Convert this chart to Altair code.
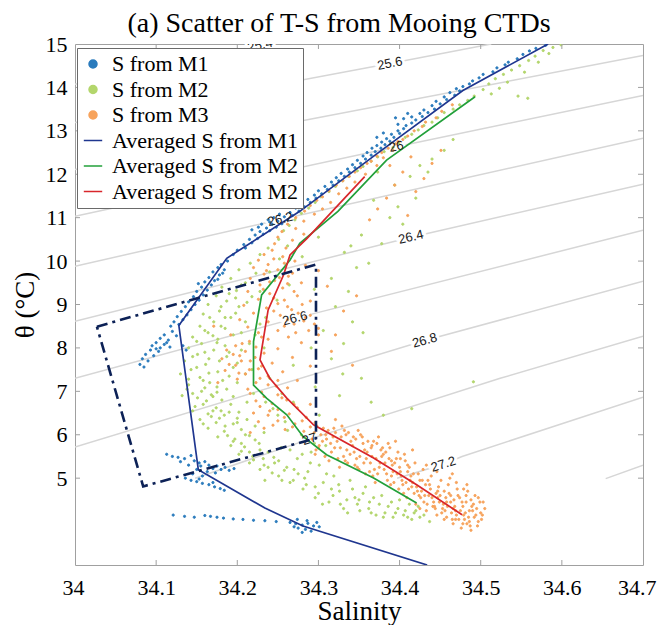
import altair as alt
import pandas as pd

# ---------------- data ----------------
X_TICKS = [34.0, 34.1, 34.2, 34.3, 34.4, 34.5, 34.6, 34.7]
Y_TICKS = [5, 6, 7, 8, 9, 10, 11, 12, 13, 14, 15]

LEGEND_KEYS = ["M1", "M2", "M3", "A1", "A2", "A3"]
LEGEND_LABELS = ["S from M1", "S from M2", "S from M3",
                 "Averaged S from M1", "Averaged S from M2", "Averaged S from M2"]

# scatter of M1 (salinity, theta)
M1_PTS = [
    (34.580, 14.97), (34.568, 14.90), (34.560, 14.84), (34.552, 14.76), (34.545, 14.66),
    (34.534, 14.58), (34.530, 14.52), (34.520, 14.45), (34.515, 14.36), (34.503, 14.30),
    (34.498, 14.22), (34.490, 14.15), (34.486, 14.08), (34.478, 14.02), (34.470, 13.97),
    (34.474, 13.92), (34.462, 13.88), (34.468, 13.82), (34.455, 13.78), (34.458, 13.72),
    (34.445, 13.68), (34.450, 13.62), (34.440, 13.58), (34.443, 13.50), (34.430, 13.48),
    (34.435, 13.42), (34.425, 13.40), (34.428, 13.33), (34.415, 13.32), (34.420, 13.25),
    (34.405, 13.28), (34.415, 13.18), (34.408, 13.12), (34.398, 13.15), (34.405, 13.05),
    (34.398, 13.00), (34.400, 12.94), (34.390, 12.92), (34.393, 12.85), (34.384, 12.82),
    (34.388, 12.76), (34.378, 12.74), (34.382, 12.68), (34.372, 12.66), (34.377, 12.60),
    (34.366, 12.60), (34.370, 12.52), (34.360, 12.50), (34.365, 12.44), (34.355, 12.42),
    (34.358, 12.35), (34.348, 12.32), (34.352, 12.25), (34.342, 12.22), (34.345, 12.15),
    (34.336, 12.12), (34.338, 12.05), (34.328, 12.02), (34.332, 11.95), (34.322, 11.92),
    (34.325, 11.85), (34.316, 11.82), (34.318, 11.75), (34.308, 11.72), (34.311, 11.65),
    (34.300, 11.62), (34.304, 11.55), (34.295, 11.52), (34.297, 11.45), (34.287, 11.42),
    (34.290, 11.35), (34.280, 11.32), (34.283, 11.25), (34.272, 11.22), (34.276, 11.15),
    (34.265, 11.12), (34.268, 11.05), (34.258, 11.02), (34.262, 10.95), (34.250, 10.92),
    (34.255, 10.86), (34.243, 10.85), (34.248, 10.78), (34.236, 10.76), (34.240, 10.70),
    (34.228, 10.68), (34.232, 10.62), (34.222, 10.60), (34.225, 10.52), (34.215, 10.50),
    (34.218, 10.42), (34.208, 10.38), (34.210, 10.30), (34.200, 10.25), (34.195, 10.15),
    (34.238, 10.95), (34.245, 11.00), (34.230, 10.85), (34.252, 11.08), (34.226, 10.78),
    (34.240, 10.90), (34.218, 10.72), (34.380, 12.95), (34.372, 12.85), (34.410, 13.40),
    (34.395, 13.30),
    (34.188, 10.00), (34.180, 9.92), (34.176, 9.85), (34.184, 9.80), (34.170, 9.75),
    (34.178, 9.68), (34.165, 9.62), (34.172, 9.55), (34.160, 9.52), (34.168, 9.45),
    (34.156, 9.40), (34.163, 9.33), (34.150, 9.30), (34.158, 9.22), (34.146, 9.18),
    (34.153, 9.10), (34.140, 9.06), (34.148, 9.00), (34.136, 8.95), (34.143, 8.88),
    (34.131, 8.84), (34.138, 8.76), (34.126, 8.72), (34.133, 8.65), (34.122, 8.60),
    (34.128, 8.54), (34.118, 8.50), (34.176, 9.58), (34.182, 9.72), (34.152, 9.48),
    (34.120, 8.38), (34.110, 8.30), (34.125, 8.28), (34.105, 8.22), (34.115, 8.18),
    (34.100, 8.12), (34.110, 8.08), (34.095, 8.05), (34.105, 8.00), (34.117, 8.02),
    (34.093, 7.95), (34.103, 7.92), (34.087, 7.85), (34.097, 7.82), (34.083, 7.75),
    (34.090, 7.70), (34.080, 7.62), (34.085, 7.56), (34.113, 8.12), (34.100, 7.98),
    (34.133, 8.05), (34.137, 7.95),
    (34.113, 5.55), (34.120, 5.50), (34.127, 5.48), (34.135, 5.45), (34.143, 5.52),
    (34.147, 5.40), (34.153, 5.35), (34.160, 5.38), (34.155, 5.28), (34.165, 5.30),
    (34.170, 5.22), (34.175, 5.28), (34.180, 5.20), (34.185, 5.25), (34.190, 5.18),
    (34.196, 5.22), (34.163, 5.15), (34.150, 5.20), (34.140, 5.30), (34.130, 5.38),
    (34.145, 5.10), (34.157, 5.05), (34.173, 5.12),
    (34.136, 5.00), (34.143, 4.95), (34.150, 4.92), (34.157, 4.88), (34.165, 4.85),
    (34.172, 4.80), (34.179, 4.76), (34.184, 4.72), (34.153, 4.98), (34.170, 4.90),
    (34.121, 4.15), (34.135, 4.12), (34.147, 4.10), (34.160, 4.14), (34.167, 4.12),
    (34.175, 4.10), (34.183, 4.08), (34.195, 4.06), (34.207, 4.05), (34.220, 4.03),
    (34.234, 4.02), (34.248, 4.00),
    (34.265, 3.98), (34.272, 3.95), (34.280, 3.92), (34.287, 3.96), (34.294, 3.90),
    (34.301, 3.88), (34.275, 3.85), (34.284, 3.82), (34.291, 3.78), (34.280, 3.75),
    (34.270, 3.88), (34.298, 3.98), (34.286, 4.02), (34.274, 4.05),
]

# scatter of M2
M2_PTS = [
    (34.599, 14.98), (34.589, 14.92), (34.577, 14.85), (34.584, 14.78), (34.567, 14.72),
    (34.559, 14.62), (34.571, 14.58), (34.548, 14.50), (34.538, 14.40), (34.554, 14.35),
    (34.528, 14.30), (34.518, 14.20), (34.533, 14.12), (34.510, 14.08), (34.523, 13.98),
    (34.503, 13.95), (34.513, 13.85), (34.546, 13.80), (34.558, 13.75), (34.492, 13.80),
    (34.484, 13.70), (34.474, 13.60), (34.466, 13.50), (34.455, 13.42), (34.447, 13.30),
    (34.440, 13.20), (34.430, 13.12), (34.423, 13.02), (34.415, 12.92), (34.407, 12.85),
    (34.399, 12.72), (34.392, 12.62), (34.381, 12.52), (34.373, 12.40), (34.365, 12.30),
    (34.355, 12.18), (34.348, 12.08), (34.337, 11.95), (34.330, 11.85), (34.321, 11.72),
    (34.313, 11.60), (34.303, 11.48), (34.296, 11.35), (34.288, 11.22), (34.279, 11.10),
    (34.271, 10.95), (34.264, 10.82), (34.257, 10.70),
    (34.455, 12.55), (34.440, 12.35), (34.425, 12.20), (34.413, 11.95), (34.394, 11.75),
    (34.388, 11.00), (34.404, 10.85), (34.368, 11.40), (34.353, 10.60), (34.378, 10.40),
    (34.332, 10.20), (34.347, 9.85), (34.316, 9.60), (34.337, 9.30), (34.321, 8.95),
    (34.342, 8.60), (34.306, 8.40), (34.331, 8.10), (34.316, 7.75), (34.353, 7.30),
    (34.296, 7.10), (34.326, 6.90), (34.415, 6.60), (34.466, 12.80), (34.373, 12.05),
    (34.491, 7.22), (34.300, 10.55), (34.340, 10.35), (34.362, 9.95), (34.295, 9.35),
    (34.355, 8.35), (34.330, 7.40), (34.365, 6.75), (34.380, 6.45), (34.420, 11.45),
    (34.435, 12.05), (34.398, 11.25),
    (34.251, 10.50), (34.238, 10.30), (34.228, 10.15), (34.216, 9.95), (34.202, 9.80),
    (34.223, 9.72), (34.192, 9.60), (34.210, 9.50), (34.181, 9.40), (34.199, 9.32),
    (34.174, 9.20), (34.218, 9.18), (34.187, 9.08), (34.164, 9.00), (34.202, 8.95),
    (34.178, 8.85), (34.158, 8.78), (34.192, 8.70), (34.171, 8.60), (34.154, 8.50),
    (34.185, 8.45), (34.228, 8.55), (34.164, 8.35), (34.145, 8.25), (34.176, 8.20),
    (34.156, 8.10), (34.140, 8.00), (34.171, 7.95), (34.151, 7.85), (34.187, 7.80),
    (34.135, 7.70), (34.161, 7.62), (34.143, 7.50), (34.176, 7.45), (34.130, 7.40),
    (34.154, 7.32), (34.166, 7.20), (34.140, 7.15), (34.187, 7.05), (34.156, 7.00),
    (34.218, 7.50), (34.233, 8.00), (34.249, 9.10), (34.264, 9.45), (34.280, 10.10),
    (34.291, 8.00), (34.269, 7.60),
    (34.205, 9.45), (34.190, 9.25), (34.212, 9.05), (34.180, 8.95), (34.198, 8.80),
    (34.166, 8.70), (34.210, 8.60), (34.180, 8.50), (34.160, 8.40), (34.195, 8.30),
    (34.170, 8.28), (34.150, 8.15), (34.185, 8.05), (34.160, 7.90), (34.145, 7.80),
    (34.178, 7.70), (34.200, 7.65), (34.150, 7.55), (34.165, 7.42), (34.190, 7.35),
    (34.140, 7.28), (34.175, 7.10), (34.200, 7.20), (34.160, 7.08), (34.145, 6.95),
    (34.175, 6.98), (34.195, 6.88), (34.162, 6.78), (34.180, 6.55), (34.200, 6.38),
    (34.168, 6.42), (34.185, 6.20), (34.210, 6.00), (34.195, 5.85), (34.222, 5.88),
    (34.205, 5.62), (34.228, 5.65), (34.220, 5.42), (34.245, 5.48), (34.238, 5.25),
    (34.258, 5.18),
    (34.132, 6.90), (34.151, 6.85), (34.168, 6.92), (34.181, 6.80), (34.158, 6.70),
    (34.174, 6.62), (34.192, 6.70), (34.145, 6.55), (34.164, 6.48), (34.184, 6.45),
    (34.202, 6.52), (34.154, 6.35), (34.174, 6.28), (34.195, 6.25), (34.212, 6.35),
    (34.164, 6.15), (34.184, 6.08), (34.205, 6.12), (34.222, 6.20), (34.176, 5.95),
    (34.197, 5.90), (34.215, 5.98), (34.233, 6.05), (34.192, 5.75), (34.209, 5.72),
    (34.227, 5.80), (34.202, 5.55), (34.219, 5.50), (34.238, 5.60), (34.215, 5.35),
    (34.233, 5.30), (34.251, 5.40), (34.228, 5.20), (34.243, 5.12),
    (34.251, 5.05), (34.261, 5.25), (34.269, 4.95), (34.274, 5.45), (34.281, 4.75),
    (34.287, 5.15), (34.296, 4.55), (34.301, 5.30), (34.306, 4.90), (34.313, 4.45),
    (34.319, 5.05), (34.326, 4.70), (34.331, 4.30), (34.339, 4.95), (34.345, 4.55),
    (34.351, 4.25), (34.358, 4.80), (34.363, 4.45), (34.371, 4.15), (34.378, 4.60),
    (34.386, 4.35), (34.392, 4.10), (34.400, 4.50), (34.407, 4.25), (34.415, 4.05),
    (34.423, 4.35), (34.430, 4.15), (34.437, 4.00), (34.291, 5.60), (34.309, 5.75),
    (34.279, 6.00), (34.259, 6.30), (34.244, 6.60), (34.269, 6.75), (34.301, 6.45),
    (34.254, 5.70), (34.234, 4.95),
    (34.265, 4.90), (34.275, 5.10), (34.285, 4.85), (34.290, 5.35), (34.300, 4.65),
    (34.310, 5.10), (34.318, 4.60), (34.325, 4.85), (34.335, 4.50), (34.342, 4.75),
    (34.348, 4.40), (34.355, 4.65), (34.362, 4.30), (34.368, 4.55), (34.375, 4.40),
    (34.382, 4.20), (34.390, 4.45), (34.398, 4.30), (34.405, 4.15), (34.412, 4.40),
    (34.418, 4.20), (34.425, 4.10), (34.280, 5.55), (34.295, 5.80), (34.265, 5.65),
    (34.262, 6.10), (34.250, 6.45), (34.235, 6.75), (34.255, 6.95), (34.240, 7.30),
    (34.205, 7.95), (34.222, 8.30), (34.235, 8.70), (34.228, 9.30), (34.240, 9.75),
    (34.252, 10.05), (34.262, 10.35),
    (34.148, 6.65), (34.170, 6.55), (34.190, 6.52), (34.158, 6.25), (34.178, 6.38),
    (34.200, 6.28), (34.188, 5.98), (34.205, 5.80), (34.215, 5.60), (34.232, 5.45),
    (34.246, 5.35), (34.255, 4.95), (34.270, 5.20), (34.283, 5.00), (34.296, 4.80),
    (34.305, 4.40), (34.316, 4.75), (34.327, 4.40), (34.336, 4.20), (34.350, 4.50),
    (34.365, 4.20), (34.380, 4.10), (34.395, 4.20), (34.410, 4.10), (34.420, 4.25),
    (34.198, 9.15), (34.185, 8.70), (34.205, 8.35), (34.175, 8.12), (34.190, 7.90),
    (34.165, 7.75), (34.158, 7.25), (34.182, 7.25), (34.138, 7.05), (34.170, 6.88),
    (34.212, 6.75), (34.220, 6.95), (34.210, 7.40), (34.195, 7.55), (34.215, 8.10),
]

# scatter of M3
M3_PTS = [
    (34.465, 13.60), (34.452, 13.45), (34.445, 13.30), (34.432, 13.20), (34.428, 13.10),
    (34.418, 13.00), (34.410, 12.88), (34.404, 12.80), (34.398, 12.75), (34.395, 12.70),
    (34.386, 12.60), (34.392, 12.55), (34.378, 12.50), (34.372, 12.42), (34.380, 12.38),
    (34.365, 12.30), (34.360, 12.25), (34.372, 12.20), (34.352, 12.15), (34.345, 12.05),
    (34.358, 12.00), (34.338, 11.95), (34.330, 11.85), (34.345, 11.82), (34.322, 11.75),
    (34.335, 11.68), (34.313, 11.62), (34.325, 11.55), (34.305, 11.48), (34.298, 11.40),
    (34.315, 11.35), (34.290, 11.28), (34.305, 11.20), (34.283, 11.15), (34.295, 11.08),
    (34.272, 11.00), (34.282, 10.92), (34.262, 10.85), (34.272, 10.75), (34.255, 10.68),
    (34.282, 10.62), (34.250, 10.55), (34.268, 10.48), (34.246, 10.40), (34.260, 10.30),
    (34.414, 12.40), (34.440, 12.25), (34.404, 12.05), (34.430, 11.90), (34.394, 11.75),
    (34.420, 11.60), (34.384, 11.45), (34.373, 11.20), (34.410, 11.05), (34.363, 10.95),
    (34.388, 12.20), (34.451, 12.55),
    (34.243, 10.25), (34.233, 10.15), (34.256, 10.10), (34.226, 10.02), (34.271, 10.00),
    (34.238, 9.92), (34.284, 9.90), (34.220, 9.85), (34.250, 9.80), (34.300, 9.78),
    (34.233, 9.70), (34.263, 9.65), (34.216, 9.60), (34.246, 9.55), (34.279, 9.50),
    (34.228, 9.45), (34.311, 9.42), (34.256, 9.38), (34.213, 9.30), (34.240, 9.25),
    (34.274, 9.20), (34.226, 9.12), (34.290, 9.08), (34.250, 9.02), (34.208, 8.98),
    (34.236, 8.92), (34.267, 8.88), (34.331, 8.85), (34.220, 8.80), (34.253, 8.75),
    (34.284, 8.70), (34.203, 8.65), (34.238, 8.60), (34.270, 8.55), (34.213, 8.48),
    (34.300, 8.45), (34.250, 8.40), (34.226, 8.35), (34.192, 8.30), (34.263, 8.25),
    (34.238, 8.20), (34.279, 8.12), (34.206, 8.10), (34.223, 8.02), (34.250, 7.98),
    (34.187, 7.95), (34.316, 7.92), (34.233, 7.88), (34.203, 7.82), (34.268, 7.78),
    (34.181, 7.75), (34.216, 7.70), (34.243, 7.65), (34.198, 7.60), (34.290, 7.58),
    (34.226, 7.52), (34.185, 7.48), (34.256, 7.45), (34.210, 7.40), (34.238, 7.35),
    (34.200, 7.28), (34.274, 7.25), (34.223, 7.20), (34.248, 7.12), (34.213, 7.05),
    (34.342, 7.60), (34.321, 8.30), (34.347, 9.20), (34.171, 8.50), (34.176, 7.20),
    (34.245, 10.05), (34.258, 9.95), (34.236, 9.78), (34.268, 9.72), (34.252, 9.62),
    (34.240, 9.52), (34.262, 9.48), (34.232, 9.35), (34.270, 9.30), (34.245, 9.15),
    (34.258, 9.10), (34.280, 9.00), (34.262, 8.95), (34.245, 8.85), (34.275, 8.80),
    (34.290, 8.75), (34.262, 8.65), (34.282, 8.62), (34.295, 8.55), (34.258, 8.50),
    (34.288, 8.40), (34.272, 8.35), (34.300, 8.30), (34.230, 8.25), (34.215, 8.15),
    (34.198, 8.05), (34.210, 7.92), (34.195, 7.85), (34.222, 7.78), (34.205, 7.70),
    (34.190, 7.62), (34.230, 7.58), (34.215, 7.50), (34.202, 7.42), (34.228, 7.30),
    (34.250, 7.25), (34.238, 7.15), (34.262, 7.08), (34.230, 6.98), (34.255, 6.85),
    (34.270, 6.70), (34.240, 6.55), (34.258, 6.40), (34.280, 6.32), (34.244, 6.22),
    (34.268, 6.18), (34.290, 6.18),
    (34.216, 6.95), (34.233, 6.88), (34.250, 6.92), (34.223, 6.78), (34.243, 6.72),
    (34.261, 6.80), (34.228, 6.65), (34.250, 6.58), (34.274, 6.62), (34.220, 6.50),
    (34.238, 6.45), (34.264, 6.48), (34.285, 6.40), (34.226, 6.30), (34.250, 6.32),
    (34.271, 6.25), (34.296, 6.28), (34.233, 6.15), (34.216, 6.05), (34.259, 6.12),
    (34.282, 6.08), (34.306, 6.15), (34.321, 6.35), (34.290, 6.70),
    (34.292, 5.90), (34.301, 5.75), (34.309, 6.00), (34.316, 5.60), (34.323, 5.85),
    (34.329, 6.20), (34.313, 5.40), (34.331, 5.50), (34.296, 5.55), (34.326, 5.25),
    (34.337, 6.05), (34.342, 5.75), (34.347, 5.45), (34.350, 5.20), (34.354, 5.95),
    (34.360, 5.60), (34.364, 5.35), (34.367, 5.05), (34.372, 5.80), (34.370, 4.90),
    (34.378, 5.50), (34.381, 5.20), (34.385, 4.95), (34.388, 5.70), (34.394, 5.35),
    (34.399, 4.75), (34.402, 5.05), (34.406, 5.55), (34.409, 4.55), (34.412, 5.25),
    (34.416, 4.90), (34.420, 4.40), (34.423, 5.10), (34.427, 4.70), (34.433, 4.25),
    (34.435, 4.95), (34.440, 4.55), (34.446, 4.15), (34.448, 4.80), (34.454, 4.40),
    (34.458, 4.10), (34.461, 4.65), (34.466, 3.95), (34.468, 4.35), (34.474, 4.55),
    (34.476, 3.85), (34.481, 4.20), (34.486, 4.00), (34.491, 4.40), (34.496, 3.90),
    (34.484, 4.70), (34.494, 4.15), (34.488, 3.80), (34.501, 4.05),
    (34.300, 5.70), (34.318, 5.95), (34.335, 5.65), (34.345, 5.30), (34.352, 6.00),
    (34.358, 5.10), (34.365, 5.70), (34.375, 5.25), (34.383, 5.60), (34.390, 5.05),
    (34.396, 5.45), (34.404, 4.85), (34.410, 5.15), (34.418, 4.65), (34.425, 4.95),
    (34.430, 4.45), (34.438, 4.75), (34.443, 4.35), (34.450, 4.60), (34.456, 4.25),
    (34.463, 4.45), (34.470, 4.15), (34.478, 4.35), (34.483, 3.95), (34.490, 4.25),
    (34.497, 4.55), (34.479, 4.75), (34.470, 4.90), (34.462, 5.00), (34.505, 4.30),
    (34.295, 6.05), (34.305, 5.85), (34.312, 6.10), (34.320, 5.70), (34.328, 5.95),
    (34.333, 5.40), (34.340, 5.85), (34.344, 5.60), (34.349, 6.10), (34.356, 5.35),
    (34.361, 5.85), (34.366, 5.50), (34.369, 5.20), (34.374, 5.95), (34.377, 5.65),
    (34.382, 5.35), (34.386, 5.80), (34.389, 4.85), (34.392, 5.15), (34.398, 5.60),
    (34.400, 5.25), (34.403, 4.95), (34.407, 5.40), (34.411, 4.75), (34.414, 5.05),
    (34.419, 5.35), (34.421, 4.80), (34.426, 4.55), (34.429, 5.20), (34.432, 4.85),
    (34.436, 4.60), (34.439, 5.05), (34.442, 4.45), (34.447, 4.70), (34.451, 4.95),
    (34.453, 4.30), (34.457, 4.55), (34.460, 4.85), (34.464, 4.20), (34.467, 4.50),
    (34.471, 4.75), (34.473, 4.05), (34.477, 4.45), (34.482, 4.60), (34.485, 4.10),
    (34.489, 4.35), (34.493, 4.60), (34.497, 4.00), (34.500, 4.20), (34.503, 4.45),
    (34.487, 3.90), (34.480, 4.05), (34.466, 4.30), (34.455, 4.05), (34.444, 4.30),
    (34.434, 4.40), (34.424, 4.60), (34.413, 4.95), (34.401, 5.15), (34.390, 5.40),
    (34.379, 5.70), (34.368, 5.85), (34.357, 5.65), (34.346, 5.90), (34.334, 6.00),
    (34.321, 6.05), (34.310, 5.90), (34.298, 6.20), (34.395, 5.85), (34.416, 5.65),
    (34.433, 5.30), (34.446, 5.15), (34.465, 5.10), (34.483, 4.85),
    (34.297, 5.65), (34.303, 6.00), (34.308, 5.50), (34.315, 5.80), (34.319, 6.15),
    (34.324, 5.45), (34.327, 5.70), (34.332, 6.10), (34.336, 5.35), (34.339, 5.55),
    (34.343, 5.95), (34.348, 5.25), (34.351, 5.50), (34.355, 5.80), (34.359, 5.45),
    (34.363, 5.15), (34.366, 5.75), (34.371, 5.45), (34.373, 5.10), (34.376, 5.35),
    (34.380, 5.55), (34.384, 5.10), (34.387, 5.45), (34.391, 5.30), (34.393, 4.90),
    (34.397, 5.10), (34.401, 5.45), (34.405, 4.65), (34.408, 4.90), (34.410, 5.30),
    (34.415, 4.80), (34.417, 5.10), (34.422, 4.70), (34.425, 4.30), (34.428, 4.95),
    (34.431, 4.60), (34.437, 4.85), (34.441, 4.35), (34.445, 4.65), (34.449, 4.45),
    (34.452, 4.20), (34.455, 4.70), (34.459, 4.35), (34.463, 4.60), (34.465, 4.05),
    (34.469, 4.25), (34.472, 4.60), (34.475, 4.25), (34.479, 4.15), (34.482, 4.45),
    (34.486, 4.25), (34.488, 4.50), (34.492, 4.10), (34.495, 4.30), (34.499, 4.45),
    (34.502, 4.15), (34.478, 3.95), (34.469, 4.05), (34.458, 4.45), (34.447, 4.55),
]

# averaged profiles
AVG_M1_S = [34.583, 34.478, 34.376, 34.277, 34.187, 34.128, 34.152, 34.234, 34.281, 34.434]
AVG_M1_T = [15.00, 13.93, 12.526, 11.146, 10.065, 8.516, 5.193, 4.312, 3.898, 3.00]
AVG_M2_S = [34.493, 34.384, 34.324, 34.277, 34.265, 34.230, 34.220, 34.220, 34.236,
            34.261, 34.281, 34.310, 34.368, 34.421]
AVG_M2_T = [13.785, 12.326, 11.146, 10.41, 10.025, 9.22, 8.148, 7.142, 6.843,
            6.459, 5.962, 5.539, 5.002, 4.427]
AVG_M3_S = [34.357, 34.286, 34.265, 34.257, 34.238, 34.228, 34.240, 34.261, 34.294,
            34.368, 34.421, 34.477]
AVG_M3_T = [11.944, 10.525, 10.14, 9.68, 8.875, 7.724, 7.303, 6.843, 6.229,
            5.463, 4.849, 4.158]

# dash-dot box
BOX_S = [34.027, 34.297, 34.297, 34.084, 34.027]
BOX_T = [8.49, 9.92, 5.92, 4.81, 8.49]

# isopycnals (sigma-theta), read as polylines
C254_S = [34.0, 34.237]
C254_T = [14.07, 15.0]
C256_S = [34.0, 34.388, 34.513]
C256_T = [13.19, 14.55, 15.0]
C258_S = [34.0, 34.275, 34.7]
C258_T = [12.11, 13.217, 14.735]
C260_S = [34.0, 34.396, 34.7]
C260_T = [11.03, 12.635, 13.815]
C262_S = [34.0, 34.253, 34.7]
C262_T = [9.88, 10.96, 12.83]
C264_S = [34.0, 34.414, 34.7]
C264_T = [8.615, 10.55, 11.77]
C266_S = [34.0, 34.271, 34.7]
C266_T = [7.30, 8.68, 10.71]
C268_S = [34.0, 34.431, 34.7]
C268_T = [5.716, 8.17, 9.535]
C270_S = [34.148, 34.289, 34.524, 34.7]
C270_T = [5.0, 5.90, 7.30, 8.27]
C272_S = [34.397, 34.454, 34.477, 34.7]
C272_T = [5.0, 5.32, 5.50, 6.866]
C274_S = [34.654, 34.7]
C274_T = [4.99, 5.30]

CLABEL_TEXT = ["25.4", "25.6", "26", "26.2", "26.4", "26.6", "26.8", "27", "27.2"]
CLABEL_S = [34.228, 34.388, 34.396, 34.253, 34.414, 34.271, 34.431, 34.289, 34.454]
CLABEL_T = [14.97, 14.55, 12.635, 10.96, 10.55, 8.68, 8.17, 5.90, 5.32]

TITLE = "(a) Scatter of T-S from Mooing CTDs"
X_TITLE = "Salinity"
Y_TITLE = "θ (°C)"

# ---------------- styling ----------------
W, H = 568, 521
SERIF = "Liberation Serif"
SANS = "Liberation Sans"
AXC = "#a0a0a0"
COLORS = ["#2a7bbd", "#b3d66c", "#f7a35c", "#1f368f", "#22a03a", "#d8262b"]
LINE_PATH = "M-2.3,0L2.3,0"
SHAPES = ["circle", "circle", "circle", LINE_PATH, LINE_PATH, LINE_PATH]

xs = alt.Scale(domain=[34.0, 34.7], nice=False, zero=False)
ys = alt.Scale(domain=[3, 15], nice=False, zero=False)
cscale = alt.Scale(domain=LEGEND_KEYS, range=COLORS)
sscale = alt.Scale(domain=LEGEND_KEYS, range=SHAPES)

XAX = alt.Axis(values=X_TICKS, format="~g", title=X_TITLE, grid=False, ticks=False,
               domain=False, labelFont=SERIF, labelFontSize=22, labelColor="black",
               labelPadding=12, labelFlush=True, labelFlushOffset=13, labelOverlap=False,
               titleFont=SERIF, titleFontSize=27, titleFontWeight="normal",
               titleColor="black", titleY=54, titleBaseline="alphabetic")
YAX = alt.Axis(values=Y_TICKS, format="d", title=Y_TITLE, grid=False, ticks=False,
               domain=False, labelFont=SERIF, labelFontSize=22, labelColor="black",
               labelPadding=8, labelFlush=False, labelOverlap=False,
               titleFont=SERIF, titleFontSize=27, titleFontWeight="normal",
               titleColor="black", titlePadding=6)

keys_js = "[" + ",".join("'%s'" % k for k in LEGEND_KEYS) + "]"
labels_js = "[" + ",".join("'%s'" % l for l in LEGEND_LABELS) + "]"
legend = alt.Legend(
    title=None, orient="none", legendX=2, legendY=4, direction="vertical",
    labelFont=SERIF, labelFontSize=22, labelColor="black", labelLimit=400,
    labelExpr=labels_js + "[indexof(" + keys_js + ", datum.value)]",
    symbolSize=64, symbolStrokeWidth=1.5, labelOffset=8,
    rowPadding=3.5, padding=5, strokeColor="#6a6a6a", fillColor="white",
)

# ---------------- tables ----------------
def pts_table(pts, key):
    return pd.DataFrame({"S": [p[0] for p in pts], "T": [p[1] for p in pts], "series": key})

scatter_df = pd.concat([pts_table(M2_PTS, "M2"), pts_table(M3_PTS, "M3"),
                        pts_table(M1_PTS, "M1")], ignore_index=True)

def line_table(s, t, key):
    return pd.DataFrame({"S": s, "T": t, "series": key, "idx": list(range(len(s)))})

avg_df = pd.concat([line_table(AVG_M1_S, AVG_M1_T, "A1"),
                    line_table(AVG_M2_S, AVG_M2_T, "A2"),
                    line_table(AVG_M3_S, AVG_M3_T, "A3")], ignore_index=True)
box_df = line_table(BOX_S, BOX_T, "box")

contours = [("25.4", C254_S, C254_T), ("25.6", C256_S, C256_T), ("25.8", C258_S, C258_T),
            ("26.0", C260_S, C260_T), ("26.2", C262_S, C262_T), ("26.4", C264_S, C264_T),
            ("26.6", C266_S, C266_T), ("26.8", C268_S, C268_T), ("27.0", C270_S, C270_T),
            ("27.2", C272_S, C272_T), ("27.4", C274_S, C274_T)]
cont_df = pd.concat([line_table(s, t, lv) for lv, s, t in contours], ignore_index=True)

clabel_df = pd.DataFrame({"S": CLABEL_S, "T": CLABEL_T, "txt": CLABEL_TEXT})
# rotation of each label along its isopycnal (style, degrees)
LABEL_ANGLE = {"25.4": 348, "25.6": 349, "26": 348, "26.2": 347, "26.4": 346.5,
               "26.6": 345.5, "26.8": 344, "27": 342, "27.2": 342.5}

def X():
    return alt.X("S:Q", scale=xs, axis=XAX)

def Y():
    return alt.Y("T:Q", scale=ys, axis=YAX)

# ---------------- layers ----------------
contour_lines = alt.Chart(cont_df).mark_line(color="#d6d6d6", strokeWidth=1.5, clip=True).encode(
    x=X(), y=Y(), detail="series:N", order="idx:Q")

halo_layers = []
text_layers = []
for txt, ang in LABEL_ANGLE.items():
    sub = clabel_df[clabel_df["txt"] == txt]
    halo_layers.append(alt.Chart(sub).mark_text(
        font=SANS, fontSize=13, angle=ang, fill="white", stroke="white", strokeWidth=6,
        clip=True).encode(x=X(), y=Y(), text="txt:N"))
    text_layers.append(alt.Chart(sub).mark_text(
        font=SANS, fontSize=13, angle=ang, color="#1a1a1a", clip=True).encode(
        x=X(), y=Y(), text="txt:N"))

scatter = alt.Chart(scatter_df).mark_point(filled=True, size=5, strokeWidth=1.0, opacity=1,
                                           clip=True).encode(
    x=X(), y=Y(),
    color=alt.Color("series:N", scale=cscale, legend=legend),
    stroke=alt.Stroke("series:N", scale=cscale, legend=legend),
    shape=alt.Shape("series:N", scale=sscale, legend=legend),
)

avg_lines = alt.Chart(avg_df).mark_line(strokeWidth=1.7, clip=True).encode(
    x=X(), y=Y(),
    color=alt.Color("series:N", scale=cscale, legend=None),
    order="idx:Q",
)

box = alt.Chart(box_df).mark_line(color="#0c2156", strokeWidth=2.6, strokeDash=[11, 5, 3, 5],
                                  clip=True).encode(x=X(), y=Y(), order="idx:Q")

xt_df = pd.DataFrame({"S": X_TICKS[1:-1]})
yt_df = pd.DataFrame({"T": Y_TICKS[:-1]})
tick_bottom = alt.Chart(xt_df).mark_rule(color=AXC).encode(
    x=X(), y=alt.value(H), y2=alt.value(H - 5))
tick_top = alt.Chart(xt_df).mark_rule(color=AXC).encode(
    x=X(), y=alt.value(0), y2=alt.value(5))
tick_left = alt.Chart(yt_df).mark_rule(color=AXC).encode(
    y=Y(), x=alt.value(0), x2=alt.value(5))
tick_right = alt.Chart(yt_df).mark_rule(color=AXC).encode(
    y=Y(), x=alt.value(W), x2=alt.value(W - 5))

chart = alt.layer(
    contour_lines, *halo_layers, scatter, avg_lines, *text_layers, box,
    tick_bottom, tick_top, tick_left, tick_right,
).properties(
    width=W, height=H,
    title=alt.TitleParams(TITLE, font=SERIF, fontSize=28, fontWeight="normal", color="black",
                          anchor="middle", frame="group", dx=-20, dy=13, offset=8),
    autosize=alt.AutoSizeParams(type="none"),
    padding={"left": 67, "top": 36, "right": 16, "bottom": 60},
    background="white",
).configure_view(stroke=AXC, strokeWidth=1)

chart.save("out.html", embed_options={"renderer": "svg", "actions": False})
